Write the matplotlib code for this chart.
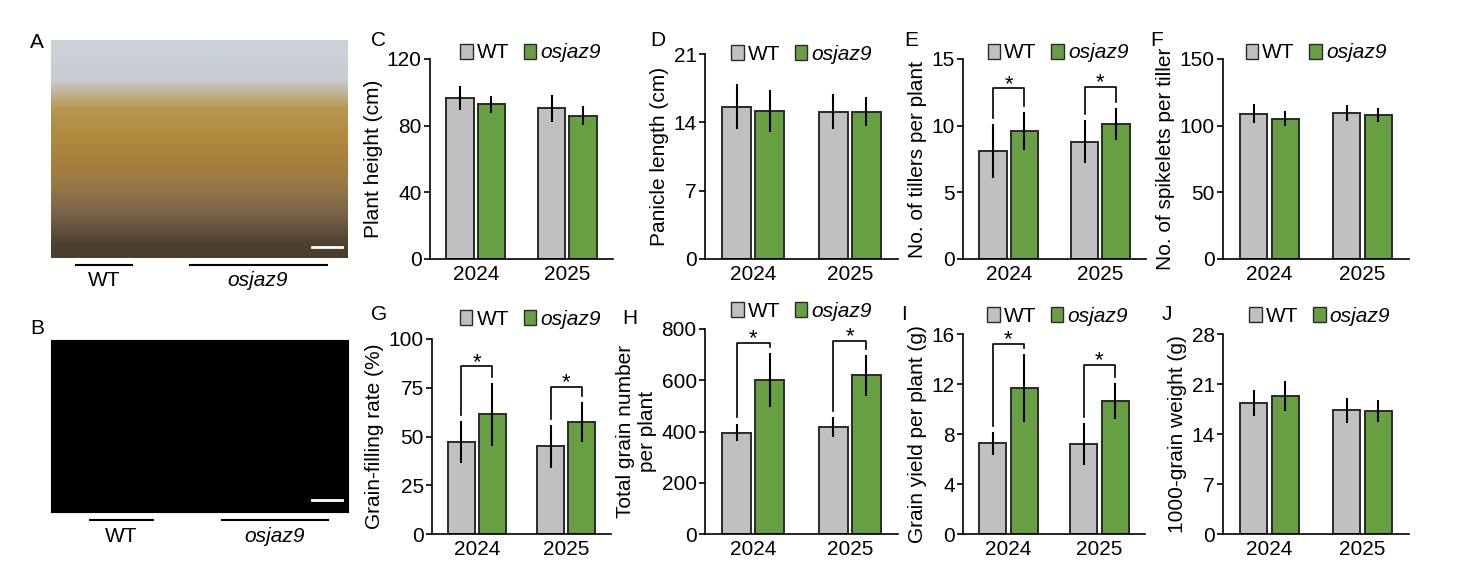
import matplotlib
matplotlib.use('Agg')
import matplotlib.pyplot as plt
import numpy as np
from matplotlib.patches import Patch
from matplotlib.lines import Line2D

plt.rcParams['font.family'] = ['Liberation Sans', 'DejaVu Sans']

# ---- data ----
years = ['2024', '2025']

height_wt = [96.8, 90.4]
height_wt_err = [7.3, 7.9]
height_mut = [92.8, 86.0]
height_mut_err = [5.3, 5.8]

panicle_wt = [15.6, 15.1]
panicle_wt_err = [2.3, 1.8]
panicle_mut = [15.2, 15.1]
panicle_mut_err = [2.15, 1.45]

tillers_wt = [8.1, 8.8]
tillers_wt_err = [2.0, 1.6]
tillers_mut = [9.6, 10.1]
tillers_mut_err = [1.4, 1.2]

spikelets_wt = [109.0, 109.5]
spikelets_wt_err = [7.0, 6.2]
spikelets_mut = [105.2, 108.0]
spikelets_mut_err = [5.6, 5.6]

filling_wt = [47.3, 45.0]
filling_wt_err = [10.9, 11.0]
filling_mut = [61.3, 57.5]
filling_mut_err = [16.3, 10.3]

grains_wt = [396, 417]
grains_wt_err = [35, 40]
grains_mut = [600, 619]
grains_mut_err = [106, 80]

yield_wt = [7.28, 7.23]
yield_wt_err = [0.92, 1.68]
yield_mut = [11.68, 10.67]
yield_mut_err = [2.73, 1.45]

tgw_wt = [18.3, 17.3]
tgw_wt_err = [1.8, 1.7]
tgw_mut = [19.3, 17.2]
tgw_mut_err = [2.07, 1.5]

GRAY = '#c0c0c0'
GREEN = '#67a043'
EDGE = '#2a2a2a'
W, H = 1471, 576

fig = plt.figure(figsize=(W / 100, H / 100), dpi=100)


def px_axes(left, top, right, bottom):
    # axes from pixel box of the reference
    return fig.add_axes([left / W, 1 - bottom / H, (right - left) / W, (bottom - top) / H])


def bar_panel(ax, wt, wt_err, mut, mut_err, ymax, nticks, ylabel, sig_pad=None,
              leg_x=0.52, leg_y=1.03):
    x = np.arange(len(years))
    w, off = 0.3, 0.172
    ekw = dict(ecolor='k', elinewidth=1.5, capsize=0)
    ax.bar(x - off, wt, w, yerr=wt_err, color=GRAY, edgecolor=EDGE, linewidth=1.4, error_kw=ekw)
    ax.bar(x + off, mut, w, yerr=mut_err, color=GREEN, edgecolor=EDGE, linewidth=1.4, error_kw=ekw)
    ax.set_xlim(-0.5, 1.5)
    ax.set_ylim(0, ymax)
    ticks = np.linspace(0, ymax, nticks)
    ax.set_yticks(ticks, ['%g' % t for t in ticks])
    ax.set_xticks(x, years)
    for s in ['top', 'right']:
        ax.spines[s].set_visible(False)
    for s in ['left', 'bottom']:
        ax.spines[s].set_linewidth(1.2)
    ax.tick_params(axis='x', length=0, pad=4, labelsize=15)
    ax.tick_params(axis='y', length=4, width=1.2, direction='out', pad=2, labelsize=15)
    ax.set_ylabel(ylabel, fontsize=15, labelpad=3)

    # significance brackets; sig_pad = bracket height above the taller error bar (fraction of ymax)
    if sig_pad is not None:
        for i in range(len(years)):
            t_wt = wt[i] + wt_err[i]
            t_mut = mut[i] + mut_err[i]
            top = max(t_wt, t_mut) + sig_pad[i] * ymax
            gap = 0.03 * ymax
            xl, xr = x[i] - off, x[i] + off
            ax.plot([xl, xl, xr, xr], [t_wt + gap, top, top, t_mut + gap],
                    color='k', lw=1.2, clip_on=False)
            ax.annotate('*', xy=(x[i], top), xytext=(0, -1), textcoords='offset points',
                        ha='center', va='baseline', fontsize=16, annotation_clip=False)

    handles = [Patch(facecolor=GRAY, edgecolor=EDGE, linewidth=1),
               Patch(facecolor=GREEN, edgecolor=EDGE, linewidth=1)]
    leg = ax.legend(handles, ['WT', 'osjaz9'], loc='center', bbox_to_anchor=(leg_x, leg_y),
                    ncol=2, frameon=False, fontsize=15, handlelength=0.6, handleheight=0.75,
                    handletextpad=0.2, columnspacing=0.7, borderpad=0, borderaxespad=0)
    leg.get_texts()[1].set_style('italic')


# ---- bar panels ----
axC = px_axes(430, 59, 613, 259)
bar_panel(axC, height_wt, height_wt_err, height_mut, height_mut_err, 120, 4, 'Plant height (cm)',
          leg_x=0.55)
axD = px_axes(705, 54, 898, 259)
bar_panel(axD, panicle_wt, panicle_wt_err, panicle_mut, panicle_mut_err, 21, 4, 'Panicle length (cm)',
          leg_x=0.50, leg_y=1.0)
axE = px_axes(963, 59, 1146, 259)
bar_panel(axE, tillers_wt, tillers_wt_err, tillers_mut, tillers_mut_err, 15, 4,
          'No. of tillers per plant', sig_pad=(0.12, 0.107))
axF = px_axes(1223, 59, 1409, 259)
bar_panel(axF, spikelets_wt, spikelets_wt_err, spikelets_mut, spikelets_mut_err, 150, 4,
          'No. of spikelets per tiller', leg_x=0.50)

axG = px_axes(432, 339, 611, 534)
bar_panel(axG, filling_wt, filling_wt_err, filling_mut, filling_mut_err, 100, 5,
          'Grain-filling rate (%)', sig_pad=(0.083, 0.075), leg_x=0.55, leg_y=1.1)
axH = px_axes(705, 329, 898, 534)
bar_panel(axH, grains_wt, grains_wt_err, grains_mut, grains_mut_err, 800, 5,
          'Total grain number\nper plant', sig_pad=(0.049, 0.07), leg_x=0.50, leg_y=1.085)
axI = px_axes(963, 334, 1145, 534)
bar_panel(axI, yield_wt, yield_wt_err, yield_mut, yield_mut_err, 16, 5, 'Grain yield per plant (g)',
          sig_pad=(0.05, 0.087), leg_y=1.09)
axJ = px_axes(1223, 334, 1409, 534)
bar_panel(axJ, tgw_wt, tgw_wt_err, tgw_mut, tgw_mut_err, 28, 5, '1000-grain weight (g)', leg_y=1.09)

# ---- photo placeholders (A: field, B: grains) ----
axA = px_axes(51, 40, 348, 258)
field = np.array([[0.80, 0.82, 0.85], [0.78, 0.80, 0.82], [0.72, 0.60, 0.32],
                  [0.70, 0.54, 0.25], [0.66, 0.50, 0.24], [0.58, 0.46, 0.28],
                  [0.45, 0.38, 0.28], [0.30, 0.25, 0.18]])[:, None, :]
axA.imshow(field, aspect='auto', extent=[0, 1, 0, 1], interpolation='bilinear')
axA.plot([0.88, 0.98], [0.05, 0.05], color='white', lw=2)
axA.set_xlim(0, 1)
axA.set_ylim(0, 1)
axA.axis('off')

axB = px_axes(51, 340, 348, 512)
axB.set_facecolor('black')
axB.plot([0.88, 0.98], [0.07, 0.07], color='white', lw=2)
axB.set_xlim(0, 1)
axB.set_ylim(0, 1)
axB.set_xticks([])
axB.set_yticks([])

# genotype lines under the photos
for (x0, x1, y, xt, txt, st) in [(76, 132, 265, 104, 'WT', 'normal'),
                                 (190, 327, 265, 258, 'osjaz9', 'italic'),
                                 (90, 153, 520, 121, 'WT', 'normal'),
                                 (222, 328, 520, 275, 'osjaz9', 'italic')]:
    fig.add_artist(Line2D([x0 / W, x1 / W], [1 - y / H, 1 - y / H], color='k', lw=1.5))
    fig.text(xt / W, 1 - (y + 16) / H, txt, ha='center', va='center', fontsize=15, style=st)

# panel letters
for lab, x, y in [('A', 37, 43), ('B', 37, 328), ('C', 378, 41), ('D', 658, 41),
                  ('E', 911, 41), ('F', 1157, 41), ('G', 379, 314), ('H', 630, 318),
                  ('I', 904, 314), ('J', 1167, 314)]:
    fig.text(x / W, 1 - y / H, lab, ha='center', va='center', fontsize=15)

fig.savefig('out.png', dpi=100)
